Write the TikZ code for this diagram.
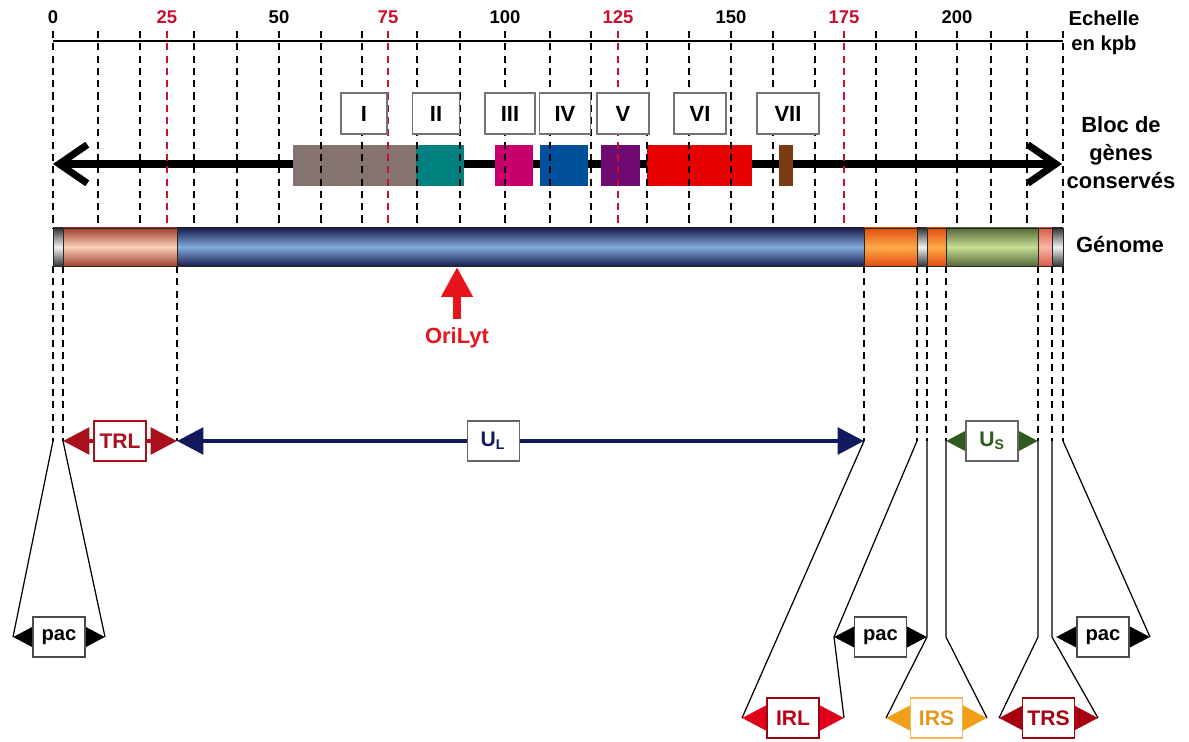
\documentclass[tikz,border=0pt]{standalone}
\usepackage{fontspec}
\setmainfont{Liberation Sans}
\usetikzlibrary{arrows.meta}
\definecolor{blkgrey}{HTML}{857470}
\definecolor{blkteal}{HTML}{00807E}
\definecolor{blkmag}{HTML}{C8006E}
\definecolor{blkblue}{HTML}{00509C}
\definecolor{blkpurple}{HTML}{6E0A72}
\definecolor{blkred}{HTML}{E60000}
\definecolor{blkbrown}{HTML}{7A3A12}
\definecolor{scalered}{HTML}{C8102E}
\definecolor{orired}{HTML}{E8141C}
\definecolor{trlred}{HTML}{A8101E}
\definecolor{ulnavy}{HTML}{121A5E}
\definecolor{usgreen}{HTML}{2F5A20}
\definecolor{irlred}{HTML}{E0001A}
\definecolor{irsorange}{HTML}{F0A018}
\definecolor{trsred}{HTML}{A8000F}
\tikzset{
	kbline/.style={dash pattern=on 4pt off 3pt, line width=0.6pt},
	numbox/.style={draw=black!55, fill=white, line width=0.6pt, minimum height=41*0.02cm,
		inner sep=0pt, font=\bfseries\fontsize{12.5}{14}\selectfont},
	seg/.style={draw=black!85, line width=0.5pt},
	rlabel/.style={align=center, inner sep=0pt, font=\bfseries\fontsize{12.5}{16}\selectfont},
	lblbox/.style={draw, fill=white, line width=0.6pt, minimum width=52*0.02cm,
		minimum height=40*0.02cm, inner sep=0pt, font=\bfseries\fontsize{12}{14}\selectfont},
	dbl/.style={line width=2.6pt, {Triangle[length=15pt,width=15pt]}-{Triangle[length=15pt,width=15pt]}},
	pacarr/.style={line width=2pt, {Triangle[length=12pt,width=12pt]}-{Triangle[length=12pt,width=12pt]}},
	genearr/.style={line width=4pt, {Straight Barb[length=16pt,width=22pt]}-{Straight Barb[length=16pt,width=22pt]}},
	fun/.style={line width=0.7pt}
}

\begin{document}
\begin{tikzpicture}[x=0.02cm, y=-0.02cm]
	\useasboundingbox (0,0) rectangle (1189,742);
	% echelle
	\draw[line width=0.7pt] (53,41) -- (1063,41);
	\foreach \x/\t/\c in {53/0/black, 167/25/scalered, 279/50/black, 388/75/scalered, 505/100/black,
		618/125/scalered, 731/150/black, 844/175/scalered, 957/200/black}
		\node[text=\c, inner sep=0pt, font=\bfseries\fontsize{10.5}{12}\selectfont] (k\t) at (\x,17) {\t};
	\node[rlabel, font=\bfseries\fontsize{11.5}{14.5}\selectfont] (ech) at (1104,33) {Echelle\\en kpb};

	% bloc de genes
	\coordinate (gl) at (53,164);
	\coordinate (gr) at (1062,164);
	\draw[genearr] (gl) -- (gr);
	\foreach \a/\b/\c in {293/416/blkgrey, 416/464/blkteal, 495/533/blkmag, 540/588/blkblue,
		601/640/blkpurple, 647/752/blkred, 779/793/blkbrown}
		\fill[\c] (\a,145) rectangle (\b,186);
	\foreach \x in {53,98,140,194,237,279,321,362,417,460,505,550,591,647,689,731,773,815,876,916,957,991,1027,1063}
		\draw[kbline] (\x,31) -- (\x,228);
	\foreach \x in {167,388,618,844}
		\draw[kbline, scalered] (\x,31) -- (\x,228);
	\foreach \x/\w/\t in {364/46/I, 436/47/II, 510/50/III, 565/51/IV, 623/52/V, 700/52/VI, 788/62/VII}
		\node[numbox, minimum width=\w*0.02cm] (b\t) at (\x,113.5) {\t};
	\node[rlabel] (bloc) at (1121,153) {Bloc de\\gènes\\conservés};

	% genome
	\foreach \a/\b/\e/\m in {53/63/333333/F2F2F2, 63/177/A0402C/FAD0BC, 177/864/1A1E4C/82AADD,
		864/917/E04E10/FFAA48, 917/927/333333/F2F2F2, 927/946/E04E10/FFAA48,
		946/1038/56683A/C6DE92, 1038/1052/D85A48/F8B8A8, 1052/1063/333333/F2F2F2}{
		\definecolor{segedge}{HTML}{\e}
		\definecolor{segmid}{HTML}{\m}
		\shadedraw[seg, top color=segedge, bottom color=segedge, middle color=segmid] (\a,228) rectangle (\b,266);
	}
	\node[rlabel] (gen) at (1120,245) {Génome};

	% origine
	\node[text=orired, inner sep=2pt, font=\bfseries\fontsize{12.5}{14}\selectfont] (ori) at (457,338) {OriLyt};
	\coordinate (oritip) at (457,267);
	\draw[orired, line width=4.5pt, -{Triangle[length=17pt,width=17pt]}, shorten <=3pt] (ori.north) -- (oritip);

	% regions
	\foreach \n/\x in {a0/53, a1/63, a2/177, a3/864, a4/917, a5/927, a6/946, a7/1038, a8/1052, a9/1063}{
		\coordinate (\n) at (\x,441);
		\draw[kbline] (\x,266) -- (\n);
	}
	\coordinate (p1l) at (13,637);
	\coordinate (p1r) at (105,637);
	\coordinate (p2l) at (834,637);
	\coordinate (p2r) at (927,637);
	\coordinate (q6) at (946,637);
	\coordinate (q7) at (1038,637);
	\coordinate (q8) at (1052,637);
	\coordinate (p3l) at (1056,637);
	\coordinate (p3r) at (1150,637);
	\coordinate (irll) at (742,718);
	\coordinate (irlr) at (844,718);
	\coordinate (irsl) at (886,718);
	\coordinate (irsr) at (987,718);
	\coordinate (trsl) at (999,718);
	\coordinate (trsr) at (1098,718);

	\draw[fun] (a0) -- (p1l);
	\draw[fun] (a1) -- (p1r);
	\draw[fun] (a3) -- (irll);
	\draw[fun] (a4) -- (p2l) -- (irlr);
	\draw[fun] (a5) -- (p2r) -- (irsl);
	\draw[fun] (a6) -- (q6) -- (irsr);
	\draw[fun] (a7) -- (q7) -- (trsl);
	\draw[fun] (a8) -- (q8) -- (trsr);
	\draw[fun] (a9) -- (p3r);

	\draw[dbl, trlred] (a1) -- node[lblbox, text=trlred] (trl) {TRL} (a2);
	\draw[dbl, ulnavy] (a2) -- node[lblbox, pos=0.46, text=ulnavy, draw=black!60] (ul) {U\textsubscript{L}} (a3);
	\draw[dbl, usgreen] (a6) -- node[lblbox, text=usgreen, draw=black!60] (us) {U\textsubscript{S}} (a7);
	\draw[pacarr] (p1l) -- node[lblbox, draw=black!70, font=\bfseries\fontsize{11.5}{14}\selectfont] (pac1) {pac} (p1r);
	\draw[pacarr] (p2l) -- node[lblbox, draw=black!70, font=\bfseries\fontsize{11.5}{14}\selectfont] (pac2) {pac} (p2r);
	\draw[pacarr] (p3l) -- node[lblbox, draw=black!70, font=\bfseries\fontsize{11.5}{14}\selectfont] (pac3) {pac} (p3r);
	\draw[dbl, irlred] (irll) -- node[lblbox, text=irlred!85!black, draw=irlred!70!black] (irl) {IRL} (irlr);
	\draw[dbl, irsorange] (irsl) -- node[lblbox, text=irsorange!95!black, draw=irsorange!75!white] (irs) {IRS} (irsr);
	\draw[dbl, trsred] (trsl) -- node[lblbox, text=trsred, draw=trsred] (trs) {TRS} (trsr);
\end{tikzpicture}
\end{document}
